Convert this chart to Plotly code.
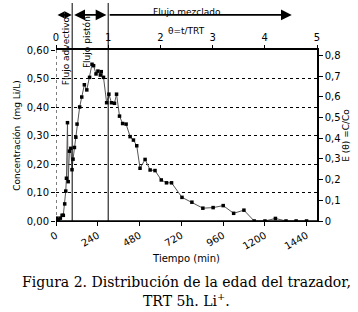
import plotly.graph_objects as go

# Tracer data (time in minutes, Li concentration mg/L)
tiempo = [5, 10, 15, 25, 35, 42, 50, 56, 60, 66, 70, 77, 85, 92, 98, 106, 114, 121,
          136, 148, 163, 177, 193, 207, 216, 230, 241, 255, 260, 273, 291, 304, 319,
          336, 348, 365, 383, 403, 426, 445, 464, 483, 512, 541, 569, 605, 635, 664,
          724, 781, 844, 903, 961, 1021, 1080, 1139, 1201, 1261, 1322, 1380, 1440]
concentracion = [0.01, 0.005, 0.005, 0.01, 0.02, 0.02, 0.06, 0.105, 0.15, 0.345, 0.138,
                 0.245, 0.255, 0.18, 0.217, 0.258, 0.294, 0.34,
                 0.40, 0.435, 0.478, 0.46, 0.504, 0.55, 0.545, 0.516, 0.526, 0.512,
                 0.524, 0.504, 0.415, 0.445, 0.415, 0.413, 0.445, 0.368, 0.342, 0.34,
                 0.296, 0.284, 0.264, 0.185, 0.216, 0.179, 0.177, 0.144, 0.134, 0.134,
                 0.083, 0.066, 0.045, 0.047, 0.054, 0.027, 0.038, 0.0, 0.0, 0.009,
                 0.0, 0.0, 0.0]

x_ticks = [0, 240, 480, 720, 960, 1200, 1440]
y_ticks = [0, 0.1, 0.2, 0.3, 0.4, 0.5, 0.6]
y_ticktext = ["0,00", "0,10", "0,20", "0,30", "0,40", "0,50", "0,60"]
e_ticks = [0, 0.1, 0.2, 0.3, 0.4, 0.5, 0.6, 0.7, 0.8]
e_ticktext = ["0", "0,1", "0,2", "0,3", "0,4", "0,5", "0,6", "0,7", "0,8"]
theta_ticks = [0, 1, 2, 3, 4, 5]

t_advectivo = 93
t_trt = 300
t_fin_mezcla = 1355

SANS = "DejaVu Sans"
fig = go.Figure()
fig.add_trace(go.Scatter(
    x=tiempo, y=concentracion, mode="lines+markers",
    line=dict(color="#555555", width=1),
    marker=dict(symbol="square", size=3.5, color="black"),
    showlegend=False, hoverinfo="skip"))
# dummy trace for theta/E axes
fig.add_trace(go.Scatter(x=[0, 5], y=[0, 0.8], xaxis="x2", yaxis="y2",
                         mode="markers", marker=dict(opacity=0),
                         showlegend=False, hoverinfo="skip"))

axis_font = dict(family=SANS, size=10, color="black")

fig.update_layout(
    width=358, height=312,
    margin=dict(l=56, r=41, t=50, b=91),
    paper_bgcolor="white", plot_bgcolor="white",
    font=dict(family=SANS, size=10, color="black"),
    xaxis=dict(range=[0, 1500], tickvals=x_ticks, ticks="outside", ticklen=4,
               tickcolor="black", showline=True, linecolor="black", linewidth=1,
               tickangle=-30, tickfont=axis_font, showgrid=False, zeroline=False,
               automargin=False,
               title=dict(text="Tiempo (min)", font=dict(family=SANS, size=10),
                          standoff=4)),
    xaxis2=dict(range=[0, 5], tickvals=theta_ticks, overlaying="x", side="top",
                anchor="y", ticks="outside", ticklen=3, tickcolor="black",
                showline=True, linecolor="black", linewidth=1.5, automargin=False,
                tickfont=dict(family=SANS, size=10), showgrid=False, zeroline=False),
    yaxis=dict(range=[0, 0.6], tickvals=y_ticks, ticktext=y_ticktext,
               ticks="outside", ticklen=4, tickcolor="black", showline=False,
               tickfont=axis_font, showgrid=True, gridcolor="black", gridwidth=1,
               griddash="dot", zeroline=False, automargin=False,
               title=dict(text="Concentración  (mg Li/L)",
                          font=dict(family=SANS, size=9), standoff=4)),
    yaxis2=dict(range=[0, 0.8266], tickvals=e_ticks, ticktext=e_ticktext,
                overlaying="y", side="right", anchor="x", ticks="outside", ticklen=4,
                tickcolor="black", showline=True, linecolor="black", linewidth=1.5,
                tickfont=axis_font, showgrid=False, zeroline=False, automargin=False,
                title=dict(text="E (θ) =C/Co", font=dict(family=SANS, size=9),
                           standoff=2)),
)

# bottom axis line (solid, heavier)
fig.add_shape(type="line", xref="x", yref="paper", x0=0, x1=1500, y0=0, y1=0,
              line=dict(color="black", width=1.5))
# dotted left boundary
fig.add_shape(type="line", xref="x", yref="paper", x0=0, x1=0, y0=0, y1=1,
              line=dict(color="black", width=1, dash="dot"))
# vertical markers
for tv in [t_advectivo, t_trt]:
    fig.add_shape(type="line", xref="x", yref="paper", x0=tv, x1=tv, y0=0, y1=1.275,
                  line=dict(color="black", width=1))

ya = 1.205
def arrow(x0, x1, both=True, size=1.2):
    fig.add_annotation(x=x1, y=ya, ax=x0, ay=0, xref="x", yref="paper",
                       axref="x", ayref="pixel", text="", showarrow=True,
                       arrowhead=2, arrowsize=size, arrowwidth=1.8, arrowcolor="black",
                       arrowside="end+start" if both else "end",
                       standoff=0, startstandoff=0)

arrow(0, t_advectivo - 2, size=0.8)
arrow(t_advectivo + 3, t_trt - 10)
arrow(t_trt, t_fin_mezcla, both=False)

fig.add_annotation(x=55, y=1.21, xref="x", yref="paper", text="Flujo advectivo",
                   textangle=-90, showarrow=False, yanchor="top",
                   font=dict(family=SANS, size=9))
fig.add_annotation(x=178, y=1.21, xref="x", yref="paper", text="Flujo pistón",
                   textangle=-90, showarrow=False, yanchor="top",
                   font=dict(family=SANS, size=9))
fig.add_annotation(x=750, y=1.265, xref="x", yref="paper", text="Flujo mezclado",
                   showarrow=False, font=dict(family=SANS, size=9))
fig.add_annotation(x=750, y=1.15, xref="x", yref="paper", text="θ=t/TRT",
                   showarrow=False, font=dict(family=SANS, size=9))

# caption
fig.add_annotation(x=0.5, y=(221 - 282) / 171, xref="paper", yref="paper",
                   xanchor="center", yanchor="middle",
                   text="Figura 2. Distribución de la edad del trazador,",
                   showarrow=False, font=dict(family="DejaVu Serif", size=14))
fig.add_annotation(x=0.5, y=(221 - 300) / 171, xref="paper", yref="paper",
                   xanchor="center", yanchor="middle",
                   text="TRT 5h. Li<sup>+</sup>.",
                   showarrow=False, font=dict(family="DejaVu Serif", size=14))

fig.write_html("out.html", config={"displayModeBar": False},
               post_script="document.body.style.margin='0';")
